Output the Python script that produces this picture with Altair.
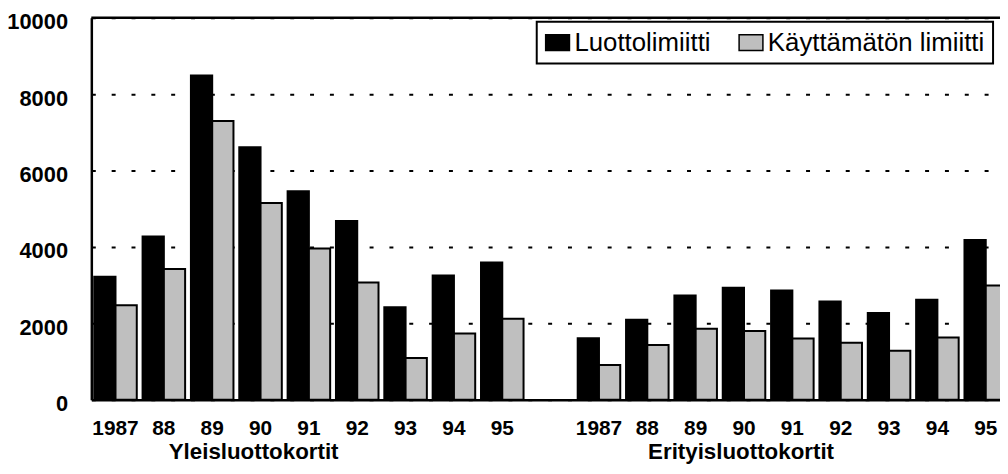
import altair as alt
import pandas as pd

years = ["1987", "88", "89", "90", "91", "92", "93", "94", "95"]
group_codes = ["Y", "E"]
group_titles = ["Yleisluottokortit", "Erityisluottokortit"]
series = ["Luottolimiitti", "Käyttämätön limiitti"]

yleis_limit = [3220, 4270, 8490, 6610, 5460, 4680, 2420, 3250, 3590]
yleis_unused = [2470, 3420, 7300, 5150, 3960, 3070, 1090, 1730, 2120]
erit_limit = [1610, 2090, 2730, 2930, 2860, 2570, 2270, 2620, 4180]
erit_unused = [910, 1430, 1860, 1800, 1600, 1490, 1280, 1630, 2990]

values = {
    ("Y", series[0]): yleis_limit,
    ("Y", series[1]): yleis_unused,
    ("E", series[0]): erit_limit,
    ("E", series[1]): erit_unused,
}

rows = []
for g in group_codes:
    for s in series:
        for yr, v in zip(years, values[(g, s)]):
            rows.append({"key": f"{g}|{yr}", "series": s, "value": v})
df = pd.DataFrame(rows)

domain = [f"Y|{y}" for y in years] + ["gap|"] + [f"E|{y}" for y in years]

FONT = "Liberation Sans"

xscale = alt.Scale(domain=domain, range=[0, 926], paddingInner=0.12, paddingOuter=0.06)

bars = alt.Chart(df).mark_bar(stroke="black", strokeWidth=2).encode(
    x=alt.X(
        "key:N",
        scale=xscale,
        axis=alt.Axis(
            title=None,
            labelExpr="split(datum.value, '|')[1]",
            labelAngle=0,
            ticks=False,
            tickSize=0,
            grid=False,
            domainColor="black",
            domainWidth=2.5,
            labelFont=FONT,
            labelFontSize=21,
            labelFontWeight="bold",
            labelColor="black",
            labelPadding=18,
        ),
    ),
    xOffset=alt.XOffset("series:N", sort=series, scale=alt.Scale(domain=series, paddingInner=0, paddingOuter=0)),
    y=alt.Y(
        "value:Q",
        scale=alt.Scale(domain=[0, 10000], nice=False),
        axis=alt.Axis(
            title=None,
            values=[0, 2000, 4000, 6000, 8000, 10000],
            format="d",
            grid=True,
            gridColor="black",
            gridDash=[4, 16],
            gridWidth=2,
            ticks=False,
            tickSize=0,
            domainColor="black",
            domainWidth=2.5,
            labelFont=FONT,
            labelFontSize=22,
            labelFontWeight="bold",
            labelColor="black",
            labelPadding=24,
            labelOffset=4,
        ),
    ),
    color=alt.Color(
        "series:N",
        sort=series,
        scale=alt.Scale(domain=series, range=["#000000", "#bfbfbf"]),
        legend=alt.Legend(
            title=None,
            orient="none",
            legendX=449,
            legendY=4,
            direction="horizontal",
            strokeColor="black",
            fillColor="white",
            padding=8,
            symbolType="M-1.5,-1H1.5V1H-1.5Z",
            symbolSize=256,
            symbolStrokeColor="black",
            symbolStrokeWidth=1.5,
            labelFont=FONT,
            labelFontSize=26,
            labelColor="black",
            labelOffset=4,
            columnPadding=25,
            labelLimit=0,
        ),
    ),
)

top_rule = alt.Chart(pd.DataFrame({"v": [10000]})).mark_rule(color="black", strokeWidth=2.5).encode(
    y=alt.Y("v:Q", scale=alt.Scale(domain=[0, 10000], nice=False))
)

t1 = alt.Chart(pd.DataFrame({"key": ["Y|90"], "t": [group_titles[0]]})).mark_text(
    font=FONT, fontSize=22.5, fontWeight="bold", color="black", baseline="alphabetic", align="center", dx=-7
).encode(x=alt.X("key:N", scale=xscale), y=alt.value(445), text="t:N")

t2 = alt.Chart(pd.DataFrame({"key": ["E|90"], "t": [group_titles[1]]})).mark_text(
    font=FONT, fontSize=22.5, fontWeight="bold", color="black", baseline="alphabetic", align="center", dx=-3
).encode(x=alt.X("key:N", scale=xscale), y=alt.value(445), text="t:N")

chart = (
    alt.layer(bars, top_rule, t1, t2)
    .properties(
        width=916,
        height=385,
        autosize=alt.AutoSizeParams(type="none"),
        padding={"left": 84, "top": 8, "right": 0, "bottom": 65},
        background="white",
    )
    .configure_view(stroke=None)
    .configure_legend(strokeWidth=2)
)

chart.save("out.html", embed_options={"renderer": "svg", "actions": False})
